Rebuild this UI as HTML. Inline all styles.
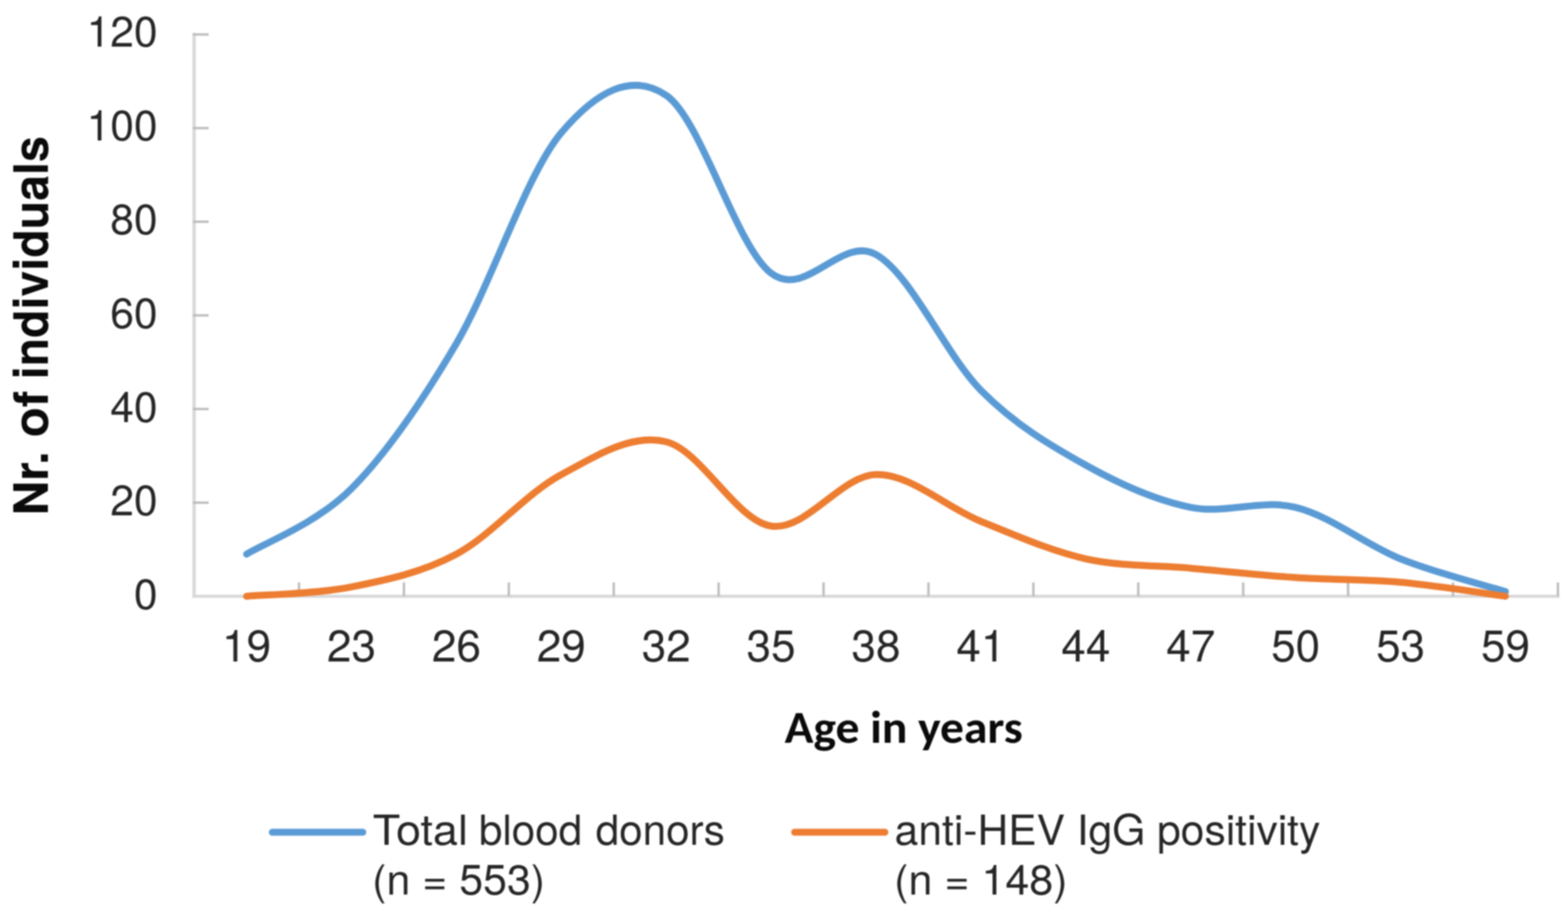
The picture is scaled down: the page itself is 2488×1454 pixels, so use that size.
<!DOCTYPE html>
<html><head><meta charset="utf-8"><title>Age distribution of blood donors</title>
<style>
html,body{margin:0;padding:0;background:#fff;}
body{width:2488px;height:1454px;overflow:hidden;}
svg{display:block;filter:blur(1px);}
.tl{font-family:"TeX Gyre Heros","Liberation Sans",Arial,sans-serif;font-size:70px;fill:#262626;}
.yl{font-family:"TeX Gyre Heros","Liberation Sans",Arial,sans-serif;font-size:67.5px;fill:#262626;}
.lg{font-family:"TeX Gyre Heros","Liberation Sans",Arial,sans-serif;font-size:66.5px;fill:#262626;}
.at{font-family:Carlito,"Liberation Sans",sans-serif;font-weight:bold;font-size:72px;fill:#0a0a0a;}
.yt{font-family:"TeX Gyre Heros","Liberation Sans",Arial,sans-serif;font-weight:bold;font-size:75.5px;fill:#0a0a0a;}
</style></head>
<body>
<svg width="2488" height="1454" viewBox="0 0 2488 1454">
<rect width="2488" height="1454" fill="#ffffff"/>
<line x1="308.0" y1="52.2" x2="308.0" y2="949.0" stroke="#d9d9d9" stroke-width="5.5"/>
<line x1="305.25" y1="946.5" x2="2474.48" y2="946.5" stroke="#d9d9d9" stroke-width="5"/>
<line x1="306.0" y1="797.87" x2="331.0" y2="797.87" stroke="#bdbdbd" stroke-width="3.8"/>
<line x1="306.0" y1="649.23" x2="331.0" y2="649.23" stroke="#bdbdbd" stroke-width="3.8"/>
<line x1="306.0" y1="500.60" x2="331.0" y2="500.60" stroke="#bdbdbd" stroke-width="3.8"/>
<line x1="306.0" y1="351.97" x2="331.0" y2="351.97" stroke="#bdbdbd" stroke-width="3.8"/>
<line x1="306.0" y1="203.33" x2="331.0" y2="203.33" stroke="#bdbdbd" stroke-width="3.8"/>
<line x1="306.0" y1="54.70" x2="331.0" y2="54.70" stroke="#bdbdbd" stroke-width="3.8"/>
<line x1="474.46" y1="946.5" x2="474.46" y2="924.5" stroke="#bdbdbd" stroke-width="3.8"/>
<line x1="640.92" y1="946.5" x2="640.92" y2="924.5" stroke="#bdbdbd" stroke-width="3.8"/>
<line x1="807.38" y1="946.5" x2="807.38" y2="924.5" stroke="#bdbdbd" stroke-width="3.8"/>
<line x1="973.84" y1="946.5" x2="973.84" y2="924.5" stroke="#bdbdbd" stroke-width="3.8"/>
<line x1="1140.30" y1="946.5" x2="1140.30" y2="924.5" stroke="#bdbdbd" stroke-width="3.8"/>
<line x1="1306.76" y1="946.5" x2="1306.76" y2="924.5" stroke="#bdbdbd" stroke-width="3.8"/>
<line x1="1473.22" y1="946.5" x2="1473.22" y2="924.5" stroke="#bdbdbd" stroke-width="3.8"/>
<line x1="1639.68" y1="946.5" x2="1639.68" y2="924.5" stroke="#bdbdbd" stroke-width="3.8"/>
<line x1="1806.14" y1="946.5" x2="1806.14" y2="924.5" stroke="#bdbdbd" stroke-width="3.8"/>
<line x1="1972.60" y1="946.5" x2="1972.60" y2="924.5" stroke="#bdbdbd" stroke-width="3.8"/>
<line x1="2139.06" y1="946.5" x2="2139.06" y2="924.5" stroke="#bdbdbd" stroke-width="3.8"/>
<line x1="2305.52" y1="946.5" x2="2305.52" y2="924.5" stroke="#bdbdbd" stroke-width="3.8"/>
<line x1="2471.98" y1="946.5" x2="2471.98" y2="924.5" stroke="#bdbdbd" stroke-width="3.8"/>
<text x="250" y="967.1" text-anchor="end" class="yl">0</text>
<text x="250" y="818.4" text-anchor="end" class="yl">20</text>
<text x="250" y="669.6" text-anchor="end" class="yl">40</text>
<text x="250" y="520.8" text-anchor="end" class="yl">60</text>
<text x="250" y="372.0" text-anchor="end" class="yl">80</text>
<text x="250" y="223.2" text-anchor="end" class="yl">100</text>
<text x="250" y="74.4" text-anchor="end" class="yl">120</text>
<text x="391.2" y="1050" text-anchor="middle" class="tl">19</text>
<text x="557.7" y="1050" text-anchor="middle" class="tl">23</text>
<text x="724.2" y="1050" text-anchor="middle" class="tl">26</text>
<text x="890.6" y="1050" text-anchor="middle" class="tl">29</text>
<text x="1057.1" y="1050" text-anchor="middle" class="tl">32</text>
<text x="1223.5" y="1050" text-anchor="middle" class="tl">35</text>
<text x="1390.0" y="1050" text-anchor="middle" class="tl">38</text>
<text x="1556.5" y="1050" text-anchor="middle" class="tl">41</text>
<text x="1722.9" y="1050" text-anchor="middle" class="tl">44</text>
<text x="1889.4" y="1050" text-anchor="middle" class="tl">47</text>
<text x="2055.8" y="1050" text-anchor="middle" class="tl">50</text>
<text x="2222.3" y="1050" text-anchor="middle" class="tl">53</text>
<text x="2388.8" y="1050" text-anchor="middle" class="tl">59</text>
<path d="M391.23,879.62 C418.97,862.27 502.20,831.31 557.69,775.57 C613.18,719.83 668.66,639.32 724.15,545.19 C779.64,451.06 835.12,276.41 890.61,210.76 C946.10,145.12 1001.58,114.15 1057.07,151.31 C1112.56,188.47 1168.04,391.60 1223.53,433.72 C1279.02,475.83 1334.50,373.02 1389.99,403.99 C1445.48,434.95 1500.96,563.77 1556.45,619.51 C1611.94,675.24 1667.42,707.45 1722.91,738.41 C1778.40,769.38 1833.88,794.15 1889.37,805.30 C1944.86,816.45 2000.34,791.67 2055.83,805.30 C2111.32,818.92 2166.80,864.75 2222.29,887.05 C2277.78,909.34 2361.01,930.40 2388.75,939.07" fill="none" stroke="#5b9bd5" stroke-width="11" stroke-linecap="round" stroke-linejoin="round"/>
<path d="M391.23,946.50 C418.97,944.02 502.20,942.78 557.69,931.64 C613.18,920.49 668.66,909.34 724.15,879.62 C779.64,849.89 835.12,783.00 890.61,753.28 C946.10,723.55 1001.58,687.63 1057.07,701.25 C1112.56,714.88 1168.04,826.35 1223.53,835.02 C1279.02,843.70 1334.50,754.52 1389.99,753.28 C1445.48,752.04 1500.96,805.30 1556.45,827.59 C1611.94,849.89 1667.42,874.66 1722.91,887.05 C1778.40,899.43 1833.88,896.96 1889.37,901.91 C1944.86,906.86 2000.34,913.06 2055.83,916.77 C2111.32,920.49 2166.80,919.25 2222.29,924.21 C2277.78,929.16 2361.01,942.78 2388.75,946.50" fill="none" stroke="#ed7d31" stroke-width="11" stroke-linecap="round" stroke-linejoin="round"/>
<text x="1245" y="1179.2" class="at" textLength="377.8" lengthAdjust="spacingAndGlyphs">Age in years</text>
<g transform="translate(75.8,0) rotate(-90)"><text x="-818.39" y="0" class="yt" textLength="101.9" lengthAdjust="spacingAndGlyphs">Nr.</text><text x="-694.0" y="0" class="yt" textLength="73.8" lengthAdjust="spacingAndGlyphs">of</text><text x="-602.05" y="0" class="yt" textLength="385.9" lengthAdjust="spacingAndGlyphs">individuals</text></g>
<line x1="432" y1="1321" x2="575.7" y2="1321" stroke="#5b9bd5" stroke-width="11" stroke-linecap="round"/>
<line x1="1260.8" y1="1321" x2="1404.1" y2="1321" stroke="#ed7d31" stroke-width="11" stroke-linecap="round"/>
<text x="591.43" y="1341.2" class="lg" textLength="151.05" lengthAdjust="spacingAndGlyphs">Total</text><text x="759.97" y="1341.2" class="lg" textLength="163.83" lengthAdjust="spacingAndGlyphs">blood</text><text x="945.19" y="1341.2" class="lg" textLength="205.05" lengthAdjust="spacingAndGlyphs">donors</text>
<text x="590.6" y="1419.5" class="lg" textLength="274.3" lengthAdjust="spacingAndGlyphs">(n = 553)</text>
<text x="1419.6" y="1341.2" class="lg" textLength="675.3" lengthAdjust="spacingAndGlyphs">anti-HEV IgG positivity</text>
<text x="1418.7" y="1419.5" class="lg" textLength="275.4" lengthAdjust="spacingAndGlyphs">(n = 148)</text>
</svg>
</body></html>
